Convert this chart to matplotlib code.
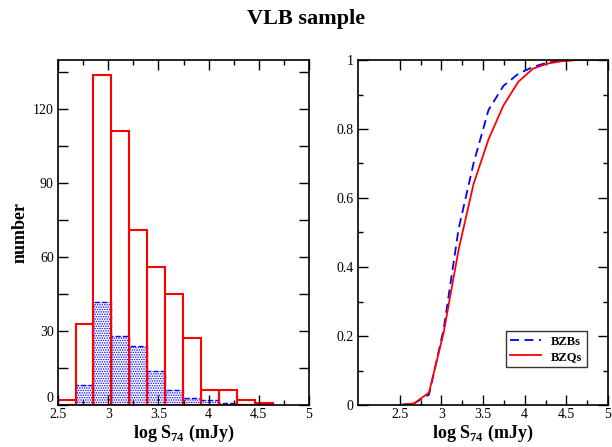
import numpy as np
import matplotlib
matplotlib.use("Agg")
import matplotlib.pyplot as plt
from matplotlib.ticker import MultipleLocator, FixedLocator

plt.rcParams['font.family'] = ['Liberation Serif', 'DejaVu Serif']
plt.rcParams['mathtext.fontset'] = 'custom'
plt.rcParams['mathtext.rm'] = 'Liberation Serif'
plt.rcParams['mathtext.bf'] = 'Liberation Serif:bold'
plt.rcParams['hatch.linewidth'] = 0.7

# histogram bins (log S74)
bin_edges = [2.50, 2.676, 2.852, 3.028, 3.207, 3.386, 3.566, 3.745, 3.924, 4.10, 4.28, 4.46, 4.64]
bzq_counts = [2, 33, 134, 111, 71, 56, 45, 27, 6, 6, 2, 1]
bzb_counts = [0, 8, 42, 28, 24, 14, 6, 3, 2, 1, 0, 0]

# cumulative distributions
cdf_x = [2.50, 2.676, 2.852, 3.028, 3.207, 3.386, 3.566, 3.745, 3.924, 4.10, 4.28, 4.46, 4.64, 5.0]
cdf_bzb = [0.0, 0.005, 0.03, 0.22, 0.51, 0.70, 0.855, 0.925, 0.96, 0.98, 0.993, 0.998, 1.0, 1.0]
cdf_bzq = [0.0, 0.005, 0.036, 0.21, 0.45, 0.64, 0.77, 0.868, 0.937, 0.975, 0.99, 0.997, 1.0, 1.0]

xtick_vals = [2.5, 3, 3.5, 4, 4.5, 5]
xtick_labels = ['2.5', '3', '3.5', '4', '4.5', '5']

edges = np.array(bin_edges)
widths = np.diff(edges)
lefts = edges[:-1]

fig = plt.figure(figsize=(6.12, 4.47), dpi=100)
ax0 = fig.add_axes([58/612, 42/447, 251/612, 345/447])
ax1 = fig.add_axes([358/612, 42/447, 250/612, 345/447])

# left: histograms
ax0.bar(lefts, bzb_counts, width=widths, align='edge', fill=False,
        edgecolor='blue', hatch='.......', linewidth=1.0, linestyle='--')
ax0.bar(lefts, bzq_counts, width=widths, align='edge', fill=False,
        edgecolor='red', linewidth=1.5)
ax0.set_xlim(2.5, 5)
ax0.set_ylim(0, 140)
ax0.set_xticks(xtick_vals)
ax0.set_xticklabels(xtick_labels)
ax0.xaxis.set_minor_locator(MultipleLocator(0.25))
ax0.set_yticks([0, 30, 60, 90, 120])
ax0.yaxis.set_minor_locator(MultipleLocator(15))
ax0.set_ylabel('number', fontsize=13, fontweight='bold', labelpad=3)
ax0.set_xlabel(r'log S$_\mathbf{74}$ (mJy)', fontsize=13, fontweight='bold', labelpad=1)

# right: cumulative
ax1.plot(cdf_x, cdf_bzb, color='blue', linestyle=(0, (5, 3)), linewidth=1.3, label='BZBs')
ax1.plot(cdf_x, cdf_bzq, color='red', linewidth=1.3, label='BZQs')
ax1.set_xlim(2, 5)
ax1.set_ylim(0, 1)
ax1.set_xticks(xtick_vals)
ax1.set_xticklabels(xtick_labels)
ax1.xaxis.set_minor_locator(FixedLocator([2.75, 3.25, 3.75, 4.25, 4.75]))
ax1.set_yticks([0, 0.2, 0.4, 0.6, 0.8, 1])
ax1.set_yticklabels(['0', '0.2', '0.4', '0.6', '0.8', '1'])
ax1.yaxis.set_minor_locator(MultipleLocator(0.1))
ax1.set_xlabel(r'log S$_\mathbf{74}$ (mJy)', fontsize=13, fontweight='bold', labelpad=1)
leg = ax1.legend(loc='lower right', bbox_to_anchor=(0.915, 0.11), borderaxespad=0,
                 prop={'weight': 'bold', 'size': 9}, frameon=True, fancybox=False,
                 edgecolor='black', handlelength=2.5, borderpad=0.35, labelspacing=0.25)
leg.get_frame().set_linewidth(1.0)

for ax in (ax0, ax1):
    ax.tick_params(which='both', direction='in', top=True, right=True, labelsize=10, width=1.0)
    ax.tick_params(which='major', length=7)
    ax.tick_params(which='minor', length=3.5)
    ax.tick_params(axis='x', pad=2.5)
    ax.tick_params(axis='y', pad=3)
    for s in ax.spines.values():
        s.set_linewidth(1.2)
ax0.tick_params(axis='y', which='minor', length=7)

# lift the "0" label so it clears the "2.5" below it
ax0.yaxis.get_major_ticks()[0].label1.set_va('bottom')

fig.text(0.5, 0.958, 'VLB sample', ha='center', va='center', fontsize=16, fontweight='bold')

fig.savefig('out.png', dpi=100)
